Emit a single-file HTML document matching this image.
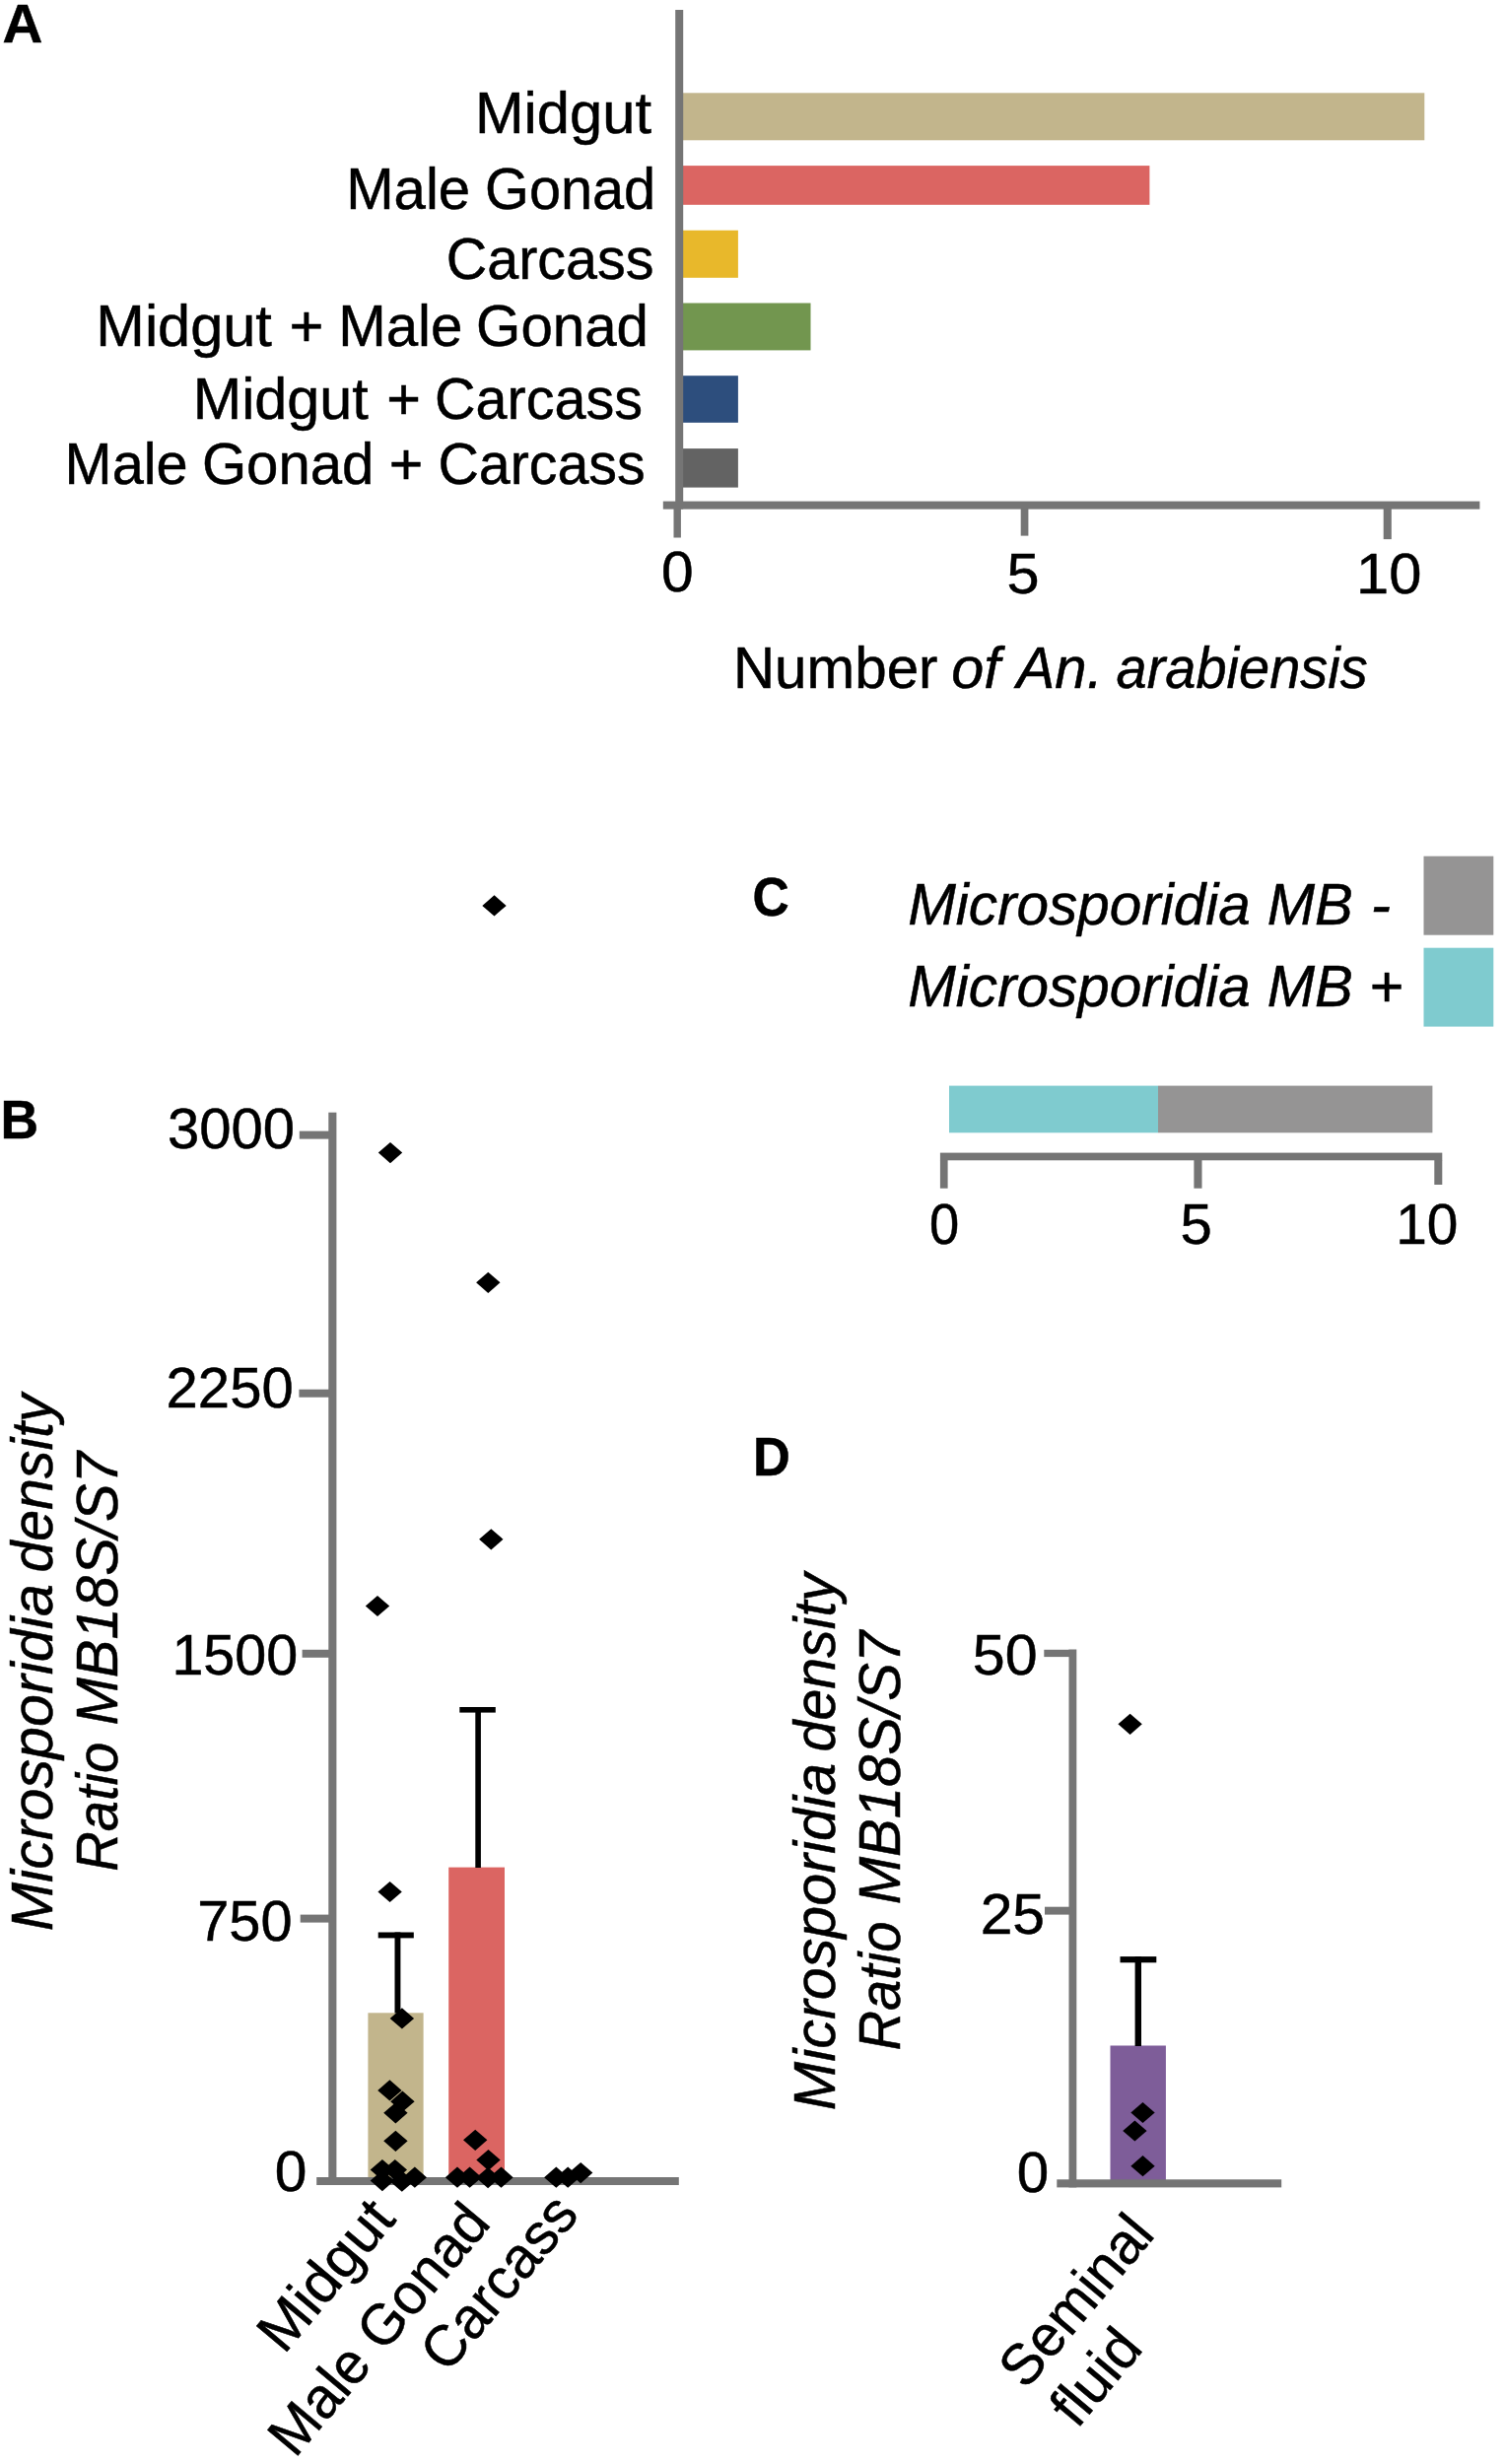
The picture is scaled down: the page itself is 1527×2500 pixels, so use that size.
<!DOCTYPE html>
<html><head><meta charset="utf-8"><title>Figure</title>
<style>html,body{margin:0;padding:0;background:#fff}svg{display:block}text{font-family:"Liberation Sans",sans-serif;fill:#000;stroke:#000;stroke-width:0.5px}</style>
</head><body>
<svg width="1527" height="2500" viewBox="0 0 1527 2500" shape-rendering="auto">
<rect width="1527" height="2500" fill="#fff"/>
<text transform="translate(2.59,42.80) scale(1.0137,1.0000)" font-size="55.8" font-weight="bold">A</text>
<rect x="690.00" y="94.30" width="755.30" height="48.00" fill="#c2b58c"/>
<rect x="690.00" y="168.10" width="476.40" height="39.70" fill="#db6562"/>
<rect x="690.00" y="233.70" width="58.90" height="48.10" fill="#e8b82b"/>
<rect x="690.00" y="307.50" width="132.50" height="47.90" fill="#72964f"/>
<rect x="690.00" y="381.20" width="58.90" height="47.60" fill="#2d4e7d"/>
<rect x="690.00" y="455.10" width="58.90" height="39.50" fill="#636363"/>
<rect x="685.20" y="10.00" width="8.00" height="506.60" fill="#757575"/>
<rect x="672.80" y="508.60" width="828.60" height="8.00" fill="#757575"/>
<rect x="683.50" y="516.00" width="7.40" height="29.50" fill="#757575"/>
<rect x="1035.70" y="516.00" width="7.70" height="27.60" fill="#757575"/>
<rect x="1403.70" y="516.00" width="8.10" height="31.10" fill="#757575"/>
<text transform="translate(481.93,134.60) scale(1.0146,1.0000)" font-size="58.8">Midgut</text>
<text transform="translate(351.15,212.30) scale(0.9888,1.0000)" font-size="58.8">Male</text>
<text transform="translate(492.12,212.30) scale(0.9803,1.0000)" font-size="58.8">Gonad</text>
<text transform="translate(452.73,283.00) scale(0.9772,1.0000)" font-size="58.8">Carcass</text>
<text transform="translate(97.34,351.00) scale(1.0117,1.0000)" font-size="58.8">Midgut</text>
<text transform="translate(293.51,351.00) scale(1.0169,1.0000)" font-size="58.8">+</text>
<text transform="translate(343.14,351.00) scale(0.9905,1.0000)" font-size="58.8">Male</text>
<text transform="translate(483.09,351.00) scale(0.9909,1.0000)" font-size="58.8">Gonad</text>
<text transform="translate(195.76,424.60) scale(1.0082,1.0000)" font-size="58.8">Midgut</text>
<text transform="translate(392.23,424.60) scale(1.0099,1.0000)" font-size="58.8">+</text>
<text transform="translate(441.02,424.60) scale(0.9786,1.0000)" font-size="58.8">Carcass</text>
<text transform="translate(65.58,491.00) scale(0.9813,1.0000)" font-size="58.8">Male</text>
<text transform="translate(204.89,491.00) scale(0.9886,1.0000)" font-size="58.8">Gonad</text>
<text transform="translate(394.84,491.00) scale(1.0064,1.0000)" font-size="58.8">+</text>
<text transform="translate(444.43,491.00) scale(0.9753,1.0000)" font-size="58.8">Carcass</text>
<text transform="translate(670.95,600.40) scale(1.0127,1.0000)" font-size="58.0">0</text>
<text transform="translate(1021.43,602.10) scale(1.0236,1.0000)" font-size="58.0">5</text>
<text transform="translate(1376.03,602.10) scale(1.0276,1.0000)" font-size="58.0">10</text>
<text transform="translate(743.93,698.40) scale(0.9929,1.0000)" font-size="58.8">Number</text>
<text transform="translate(965.23,698.40) scale(1.0070,1.0000)" font-size="58.8" font-style="italic">of</text>
<text transform="translate(1031.61,698.40) scale(0.9882,1.0000)" font-size="58.8" font-style="italic">An.</text>
<text transform="translate(1132.60,698.40) scale(0.9518,1.0000)" font-size="58.8" font-style="italic">arabiensis</text>
<text transform="translate(0.53,1155.00) scale(0.9578,1.0000)" font-size="55.8" font-weight="bold">B</text>
<rect x="373.40" y="2042.30" width="56.20" height="167.70" fill="#c2b58c"/>
<rect x="455.20" y="1894.60" width="56.80" height="315.40" fill="#db6562"/>
<rect x="333.30" y="1128.70" width="8.10" height="1088.30" fill="#757575"/>
<rect x="321.20" y="2209.00" width="367.60" height="8.00" fill="#757575"/>
<rect x="303.80" y="1147.60" width="30.20" height="8.00" fill="#757575"/>
<rect x="303.40" y="1409.70" width="30.60" height="8.00" fill="#757575"/>
<rect x="306.60" y="1673.80" width="27.40" height="8.00" fill="#757575"/>
<rect x="304.70" y="1942.60" width="29.30" height="8.00" fill="#757575"/>
<rect x="383.70" y="1960.50" width="36.10" height="5.90" fill="#000"/>
<rect x="400.50" y="1960.50" width="5.90" height="82.00" fill="#000"/>
<rect x="466.30" y="1732.00" width="36.50" height="5.60" fill="#000"/>
<rect x="482.30" y="1732.00" width="5.60" height="163.00" fill="#000"/>
<text transform="translate(169.88,1164.50) scale(1.0007,1.0000)" font-size="58.0">3000</text>
<text transform="translate(168.60,1428.30) scale(1.0006,1.0000)" font-size="58.0">2250</text>
<text transform="translate(174.39,1699.40) scale(0.9904,1.0000)" font-size="58.0">1500</text>
<text transform="translate(200.21,1968.80) scale(0.9952,1.0000)" font-size="58.0">750</text>
<text transform="translate(278.65,2223.20) scale(1.0127,1.0000)" font-size="58.0">0</text>
<path d="M489.3 918.9L501.5 908.3L513.7 918.9L501.5 929.5Z" fill="#000"/>
<path d="M383.8 1169.6L396.0 1159.0L408.2 1169.6L396.0 1180.2Z" fill="#000"/>
<path d="M483.1 1301.3L495.3 1290.7L507.5 1301.3L495.3 1311.9Z" fill="#000"/>
<path d="M486.1 1561.8L498.3 1551.2L510.5 1561.8L498.3 1572.4Z" fill="#000"/>
<path d="M370.8 1629.5L383.0 1618.9L395.2 1629.5L383.0 1640.1Z" fill="#000"/>
<path d="M383.4 1919.5L395.6 1908.9L407.8 1919.5L395.6 1930.1Z" fill="#000"/>
<path d="M395.7 2047.9L407.9 2037.3L420.1 2047.9L407.9 2058.5Z" fill="#000"/>
<path d="M383.2 2120.9L395.4 2110.3L407.6 2120.9L395.4 2131.5Z" fill="#000"/>
<path d="M396.2 2132.2L408.4 2121.6L420.6 2132.2L408.4 2142.8Z" fill="#000"/>
<path d="M389.2 2143.8L401.4 2133.2L413.6 2143.8L401.4 2154.4Z" fill="#000"/>
<path d="M389.2 2172.3L401.4 2161.7L413.6 2172.3L401.4 2182.9Z" fill="#000"/>
<path d="M375.7 2201.6L387.9 2191.0L400.1 2201.6L387.9 2212.2Z" fill="#000"/>
<path d="M388.6 2201.6L400.8 2191.0L413.0 2201.6L400.8 2212.2Z" fill="#000"/>
<path d="M375.7 2212.6L387.9 2202.0L400.1 2212.6L387.9 2223.2Z" fill="#000"/>
<path d="M395.6 2213.2L407.8 2202.6L420.0 2213.2L407.8 2223.8Z" fill="#000"/>
<path d="M408.6 2209.2L420.8 2198.6L433.0 2209.2L420.8 2219.8Z" fill="#000"/>
<path d="M470.0 2171.3L482.2 2160.7L494.4 2171.3L482.2 2181.9Z" fill="#000"/>
<path d="M483.3 2191.6L495.5 2181.0L507.7 2191.6L495.5 2202.2Z" fill="#000"/>
<path d="M451.8 2209.2L464.0 2198.6L476.2 2209.2L464.0 2219.8Z" fill="#000"/>
<path d="M464.4 2209.2L476.6 2198.6L488.8 2209.2L476.6 2219.8Z" fill="#000"/>
<path d="M482.9 2209.6L495.1 2199.0L507.3 2209.6L495.1 2220.2Z" fill="#000"/>
<path d="M496.3 2209.2L508.5 2198.6L520.7 2209.2L508.5 2219.8Z" fill="#000"/>
<path d="M552.1 2209.2L564.3 2198.6L576.5 2209.2L564.3 2219.8Z" fill="#000"/>
<path d="M564.0 2209.2L576.2 2198.6L588.4 2209.2L576.2 2219.8Z" fill="#000"/>
<path d="M577.0 2204.6L589.2 2194.0L601.4 2204.6L589.2 2215.2Z" fill="#000"/>
<text transform="translate(53.20,1957.60) rotate(-90) scale(1.0077,1.0200)" x="-1.76" font-size="58.8" font-style="italic">Microsporidia</text>
<text transform="translate(53.20,1593.60) rotate(-90) scale(0.9733,1.0200)" x="-2.06" font-size="58.8" font-style="italic">density</text>
<text transform="translate(119.00,1897.10) rotate(-90) scale(0.9539,1.0200)" x="-1.76" font-size="58.8" font-style="italic">Ratio</text>
<text transform="translate(119.00,1748.80) rotate(-90) scale(0.9877,1.0200)" x="-1.76" font-size="58.8" font-style="italic">MB18S/S7</text>
<text transform="translate(291.00,2386.00) rotate(-50) scale(1.0152,1.0000)" x="-4.70" font-size="58.8">Midgut</text>
<text transform="translate(302.30,2491.60) rotate(-50) scale(0.9723,1.0000)" x="-4.70" font-size="58.8">Male Gonad</text>
<text transform="translate(455.50,2407.00) rotate(-50) scale(0.9772,1.0000)" x="-2.94" font-size="58.8">Carcass</text>
<text transform="translate(763.54,929.00) scale(0.9122,1.0000)" font-size="56.4" font-weight="bold">C</text>
<text transform="translate(921.15,937.50) scale(0.9941,1.0000)" font-size="58.8" font-style="italic">Microsporidia</text>
<text transform="translate(1285.76,937.50) scale(0.9872,1.0000)" font-size="58.8" font-style="italic">MB</text>
<text transform="translate(1390.66,937.50) scale(1.0335,1.0000)" font-size="58.8" font-style="italic">-</text>
<text transform="translate(921.15,1020.80) scale(0.9941,1.0000)" font-size="58.8" font-style="italic">Microsporidia</text>
<text transform="translate(1285.76,1020.80) scale(0.9872,1.0000)" font-size="58.8" font-style="italic">MB</text>
<text transform="translate(1389.05,1020.80) scale(1.0064,1.0000)" font-size="58.8" font-style="italic">+</text>
<rect x="1444.50" y="868.70" width="70.80" height="80.00" fill="#959494"/>
<rect x="1444.50" y="961.70" width="70.80" height="79.90" fill="#7fcbcf"/>
<rect x="963.00" y="1101.60" width="212.00" height="47.70" fill="#7fcbcf"/>
<rect x="1175.00" y="1101.60" width="278.40" height="47.70" fill="#959494"/>
<rect x="953.90" y="1169.60" width="509.40" height="7.70" fill="#757575"/>
<rect x="953.90" y="1177.00" width="7.70" height="28.70" fill="#757575"/>
<rect x="1211.40" y="1177.00" width="8.10" height="28.70" fill="#757575"/>
<rect x="1455.30" y="1177.00" width="8.00" height="25.00" fill="#757575"/>
<text transform="translate(942.93,1262.30) scale(0.9365,1.0000)" font-size="58.0">0</text>
<text transform="translate(1197.38,1262.30) scale(1.0018,1.0000)" font-size="58.0">5</text>
<text transform="translate(1416.24,1262.30) scale(0.9793,1.0000)" font-size="58.0">10</text>
<text transform="translate(763.90,1496.90) scale(0.9383,1.0000)" font-size="55.8" font-weight="bold">D</text>
<rect x="1126.50" y="2075.50" width="56.40" height="136.50" fill="#7e5d99"/>
<rect x="1084.50" y="1673.50" width="7.80" height="545.90" fill="#757575"/>
<rect x="1072.30" y="2211.30" width="227.90" height="8.10" fill="#757575"/>
<rect x="1059.30" y="1673.80" width="25.70" height="7.30" fill="#757575"/>
<rect x="1060.00" y="1934.70" width="25.00" height="7.90" fill="#757575"/>
<rect x="1136.50" y="1985.10" width="36.80" height="6.20" fill="#000"/>
<rect x="1151.60" y="1985.10" width="6.40" height="90.90" fill="#000"/>
<text transform="translate(986.83,1699.20) scale(1.0195,1.0000)" font-size="58.0">50</text>
<text transform="translate(994.66,1961.50) scale(1.0142,1.0000)" font-size="58.0">25</text>
<text transform="translate(1031.67,2223.70) scale(1.0054,1.0000)" font-size="58.0">0</text>
<path d="M1134.4 1749.3L1146.6 1738.7L1158.8 1749.3L1146.6 1759.9Z" fill="#000"/>
<path d="M1147.3 2143.5L1159.5 2132.9L1171.7 2143.5L1159.5 2154.1Z" fill="#000"/>
<path d="M1139.2 2162.0L1151.4 2151.4L1163.6 2162.0L1151.4 2172.6Z" fill="#000"/>
<path d="M1147.3 2197.7L1159.5 2187.1L1171.7 2197.7L1159.5 2208.3Z" fill="#000"/>
<text transform="translate(846.70,2139.40) rotate(-90) scale(1.0077,1.0200)" x="-1.76" font-size="58.8" font-style="italic">Microsporidia</text>
<text transform="translate(846.70,1775.40) rotate(-90) scale(0.9733,1.0200)" x="-2.06" font-size="58.8" font-style="italic">density</text>
<text transform="translate(912.50,2078.90) rotate(-90) scale(0.9539,1.0200)" x="-1.76" font-size="58.8" font-style="italic">Ratio</text>
<text transform="translate(912.50,1930.60) rotate(-90) scale(0.9877,1.0200)" x="-1.76" font-size="58.8" font-style="italic">MB18S/S7</text>
<text transform="translate(1042.50,2423.70) rotate(-50) scale(0.9694,1.0000)" x="-2.65" font-size="58.8">Seminal</text>
<text transform="translate(1093.20,2464.50) rotate(-50) scale(0.9884,1.0000)" x="-0.88" font-size="58.8">fluid</text>
</svg>
</body></html>
